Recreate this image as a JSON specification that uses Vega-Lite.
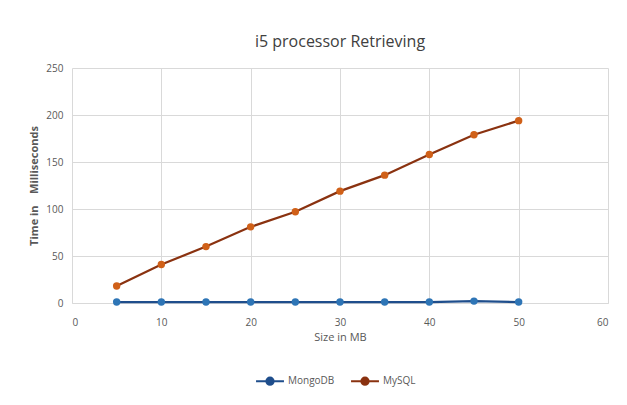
{
  "$schema": "https://vega.github.io/schema/vega-lite/v6.json",
  "width": 536,
  "height": 235,
  "autosize": {"type": "none"},
  "padding": {"left": 72, "top": 68, "right": 19, "bottom": 102},
  "background": "white",
  "title": {"text": "i5 processor Retrieving", "fontSize": 16, "font": "Open Sans", "fontWeight": "normal", "color": "#404040", "offset": 13, "anchor": "middle"},
  "config": {
    "view": {"stroke": null},
    "axis": {"labelFont": "Open Sans", "labelFontSize": 10, "labelColor": "#595959", "titleFont": "Open Sans", "titleColor": "#595959", "gridColor": "#d9d9d9", "ticks": false, "domainColor": "#d9d9d9"},
    "legend": {"labelFont": "Open Sans", "labelFontSize": 10, "labelColor": "#595959"}
  },
  "data": {"values": [
    {"size": 5, "db": "MongoDB", "time": 1},
    {"size": 10, "db": "MongoDB", "time": 1},
    {"size": 15, "db": "MongoDB", "time": 1},
    {"size": 20, "db": "MongoDB", "time": 1},
    {"size": 25, "db": "MongoDB", "time": 1},
    {"size": 30, "db": "MongoDB", "time": 1},
    {"size": 35, "db": "MongoDB", "time": 1},
    {"size": 40, "db": "MongoDB", "time": 1},
    {"size": 45, "db": "MongoDB", "time": 2},
    {"size": 50, "db": "MongoDB", "time": 1},
    {"size": 5, "db": "MySQL", "time": 18},
    {"size": 10, "db": "MySQL", "time": 41},
    {"size": 15, "db": "MySQL", "time": 60},
    {"size": 20, "db": "MySQL", "time": 81},
    {"size": 25, "db": "MySQL", "time": 97},
    {"size": 30, "db": "MySQL", "time": 119},
    {"size": 35, "db": "MySQL", "time": 136},
    {"size": 40, "db": "MySQL", "time": 158},
    {"size": 45, "db": "MySQL", "time": 179},
    {"size": 50, "db": "MySQL", "time": 194}
  ]},
  "encoding": {
    "x": {"field": "size", "type": "quantitative", "scale": {"domain": [0, 60], "nice": false}, "axis": {"values": [0, 10, 20, 30, 40, 50, 60], "title": "Size in MB", "titleFontSize": 11, "titleFontWeight": "normal", "titlePadding": 4, "labelPadding": 14}},
    "y": {"field": "time", "type": "quantitative", "scale": {"domain": [0, 250], "nice": false}, "axis": {"values": [0, 50, 100, 150, 200, 250], "title": "Time in\u00a0\u00a0\u00a0\u00a0Milliseconds", "titleFontSize": 11, "titleFontWeight": "bold", "titlePadding": 6, "labelPadding": 9, "domain": false}}
  },
  "layer": [
    {
      "mark": {"type": "line", "strokeWidth": 2.2},
      "encoding": {
        "color": {"field": "db", "type": "nominal", "scale": {"domain": ["MongoDB", "MySQL"], "range": ["#1f4e8c", "#8a3210"]},
          "legend": {"title": null, "orient": "none", "direction": "horizontal", "legendX": 183, "legendY": 298, "symbolType": "M-1,0H1M0.26,0A0.26,0.26,0,1,1,-0.26,0A0.26,0.26,0,1,1,0.26,0", "symbolSize": 780, "symbolStrokeWidth": 2, "columnPadding": 12, "labelOffset": 3,
            "encode": {"symbols": {"update": {"fill": {"scale": "color", "field": "value"}}}}}}
      }
    },
    {
      "mark": {"type": "point", "filled": true, "size": 55, "opacity": 1},
      "encoding": {
        "fill": {"field": "db", "type": "nominal", "scale": {"domain": ["MongoDB", "MySQL"], "range": ["#2e75b6", "#d06018"]}, "legend": null}
      }
    }
  ],
  "resolve": {"scale": {"fill": "independent"}}
}
